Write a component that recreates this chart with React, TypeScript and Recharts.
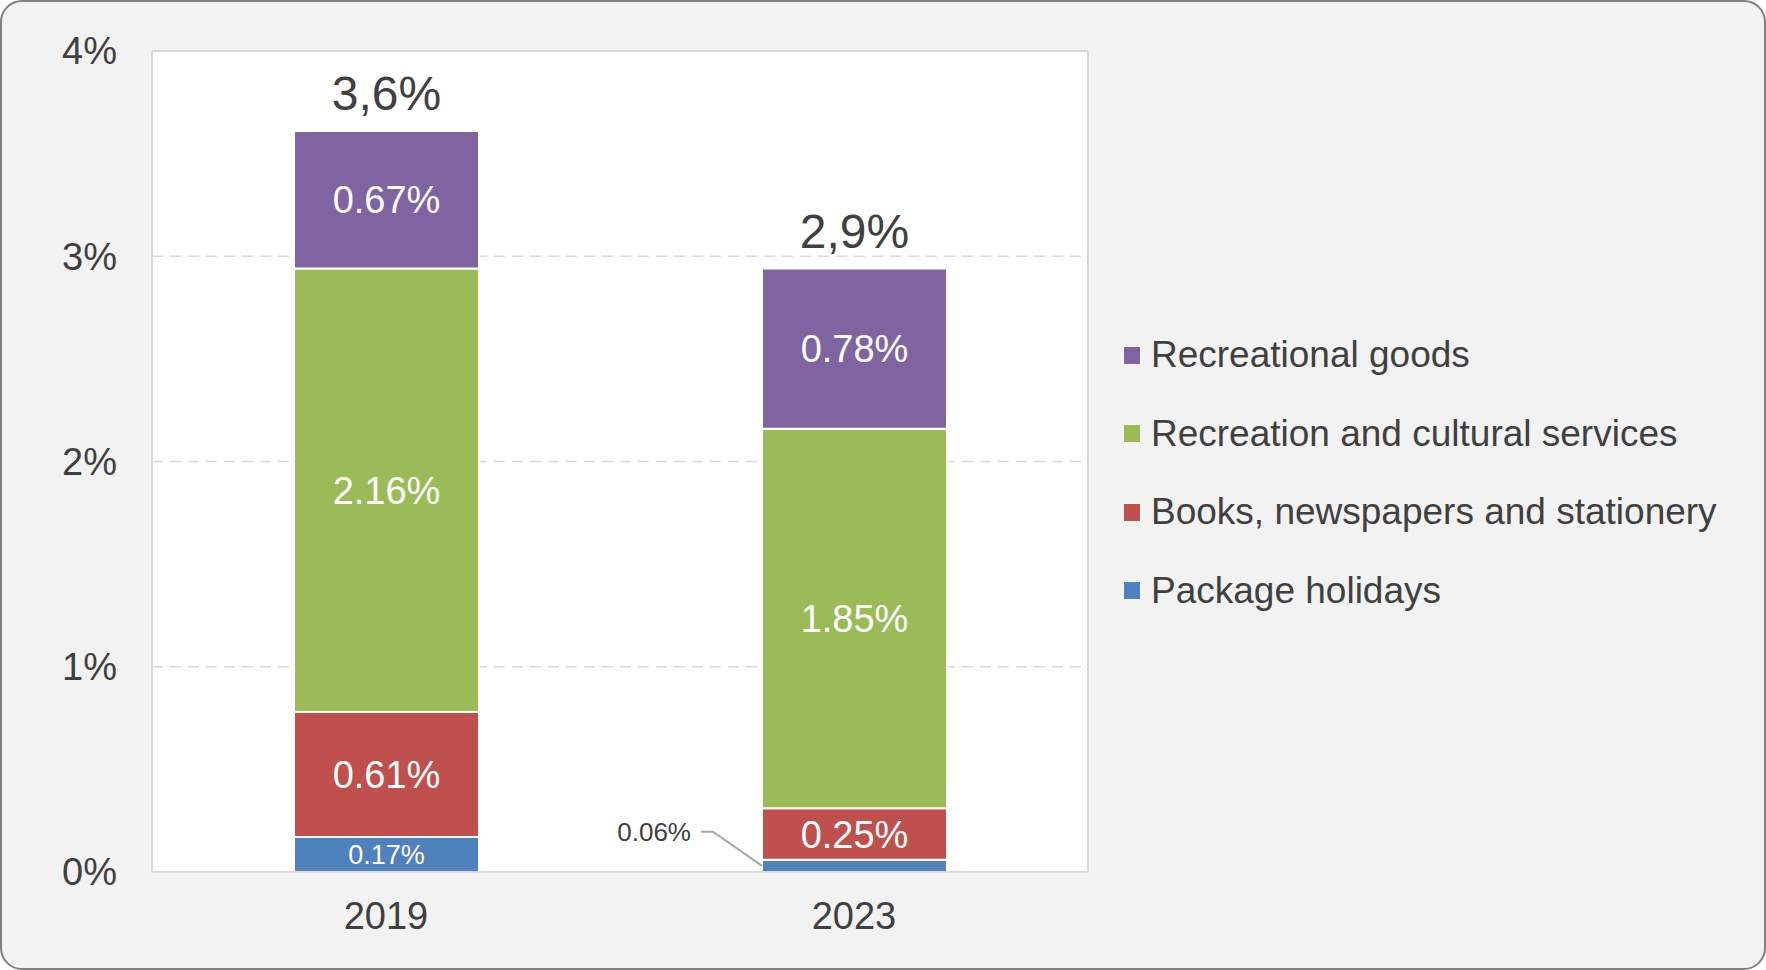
import React from "react";
import {
  Bar,
  BarChart,
  CartesianGrid,
  LabelList,
  ReferenceLine,
  XAxis,
  YAxis,
} from "recharts";

const YEARS = ["2019", "2023"];
const PACKAGE_HOLIDAYS = [0.17, 0.06];
const BOOKS = [0.61, 0.25];
const REC_SERVICES = [2.16, 1.85];
const REC_GOODS = [0.67, 0.78];
const Y_TICKS = [0, 1, 2, 3, 4];

const SERIES = [
  { key: "pkg", name: "Package holidays", color: "#4F81BD", values: PACKAGE_HOLIDAYS },
  { key: "books", name: "Books, newspapers and stationery", color: "#C0504D", values: BOOKS },
  { key: "services", name: "Recreation and cultural services", color: "#9BBB59", values: REC_SERVICES },
  { key: "goods", name: "Recreational goods", color: "#8064A2", values: REC_GOODS },
];

const data = YEARS.map((year, i) => {
  const row: Record<string, any> = { year };
  SERIES.forEach((s) => (row[s.key] = s.values[i]));
  row.total = SERIES.reduce((acc, s) => acc + s.values[i], 0);
  return row;
});

const FONT = "'Liberation Sans', Arial, sans-serif";
const TEXT = "#404040";
const FRAME = "#d9d9d9";

const pct = (v: number) => `${v.toFixed(2)}%`;

// centred white label inside a segment
const segmentLabel = (size: number) => (props: any) => {
  const { x, y, width, height, value } = props;
  return (
    <text
      x={x + width / 2}
      y={y + height / 2}
      dy="0.355em"
      textAnchor="middle"
      fill="#fff"
      fontSize={size}
      fontFamily={FONT}
    >
      {pct(Number(value))}
    </text>
  );
};

// small segments get a callout to the left
const packageLabel = (props: any) => {
  const { x, y, height, value } = props;
  const v = Number(value);
  if (v >= 0.1) return segmentLabel(27)(props);
  const ty = y - 28;
  return (
    <g>
      <polyline
        points={`${x - 61},${ty} ${x - 49},${ty} ${x},${y + height / 2}`}
        fill="none"
        stroke="#a6a6a6"
        strokeWidth={2}
      />
      <text
        x={x - 71}
        y={ty}
        dy="0.355em"
        textAnchor="end"
        fill={TEXT}
        fontSize={26}
        fontFamily={FONT}
      >
        {pct(v)}
      </text>
    </g>
  );
};

const totalLabel = (props: any) => {
  const { x, y, width, index } = props;
  const total = data[index].total as number;
  return (
    <text
      x={x + width / 2}
      y={y - 21}
      textAnchor="middle"
      fill={TEXT}
      fontSize={48}
      fontFamily={FONT}
    >
      {`${total.toFixed(1).replace(".", ",")}%`}
    </text>
  );
};

function ChartLegend() {
  return (
    <div style={{ position: "absolute", left: 1123, top: 316 }}>
      {[...SERIES].reverse().map((s) => (
        <div
          key={s.key}
          style={{ height: 78.5, display: "flex", alignItems: "center" }}
        >
          <span
            style={{
              width: 18,
              height: 19,
              boxSizing: "border-box",
              border: "1.5px solid #fff",
              background: s.color,
              flexShrink: 0,
            }}
          />
          <span
            style={{
              marginLeft: 10,
              fontSize: 37,
              color: TEXT,
              fontFamily: FONT,
              whiteSpace: "nowrap",
            }}
          >
            {s.name}
          </span>
        </div>
      ))}
    </div>
  );
}

export default function App() {
  return (
    <div
      style={{
        position: "fixed",
        left: 0,
        top: 0,
        width: 1766,
        height: 970,
        boxSizing: "border-box",
        background: "#f2f2f2",
        border: "2px solid #808080",
        borderRadius: 22,
        overflow: "hidden",
      }}
    >
      <div style={{ position: "absolute", left: -2, top: -2 }}>
        <BarChart
          width={1766}
          height={970}
          data={data}
          margin={{ top: 51, right: 678, bottom: 0, left: 0 }}
          barSize={185}
        >
          <CartesianGrid
            vertical={false}
            stroke={FRAME}
            strokeWidth={1.5}
            strokeDasharray="11 7"
            fill="#fff"
            fillOpacity={1}
          />
          <CartesianGrid
            horizontal={false}
            stroke={FRAME}
            strokeWidth={2}
            verticalCoordinatesGenerator={(p: any) =>
              p && p.offset ? [p.offset.left + p.offset.width] : []
            }
          />
          <XAxis
            dataKey="year"
            height={98}
            tickLine={false}
            tickSize={0}
            tickMargin={30}
            axisLine={{ stroke: FRAME, strokeWidth: 2 }}
            tick={{ fill: TEXT, fontSize: 38, fontFamily: FONT }}
          />
          <YAxis
            width={152}
            domain={[0, 4]}
            ticks={Y_TICKS}
            tickFormatter={(v) => `${v}%`}
            tickLine={false}
            tickSize={0}
            tickMargin={35}
            axisLine={{ stroke: FRAME, strokeWidth: 2 }}
            tick={{ fill: TEXT, fontSize: 38, fontFamily: FONT }}
          />
          <ReferenceLine y={4} stroke={FRAME} strokeWidth={2} />
          {SERIES.map((s) => (
            <Bar
              key={s.key}
              dataKey={s.key}
              name={s.name}
              stackId="a"
              fill={s.color}
              stroke="#fff"
              strokeWidth={2}
              isAnimationActive={false}
            >
              <LabelList
                dataKey={s.key}
                content={s.key === "pkg" ? packageLabel : segmentLabel(38)}
              />
              {s.key === "goods" && (
                <LabelList dataKey="total" content={totalLabel} />
              )}
            </Bar>
          ))}
        </BarChart>
      </div>
      <div style={{ position: "absolute", left: -2, top: -2 }}>
        <ChartLegend />
      </div>
    </div>
  );
}
